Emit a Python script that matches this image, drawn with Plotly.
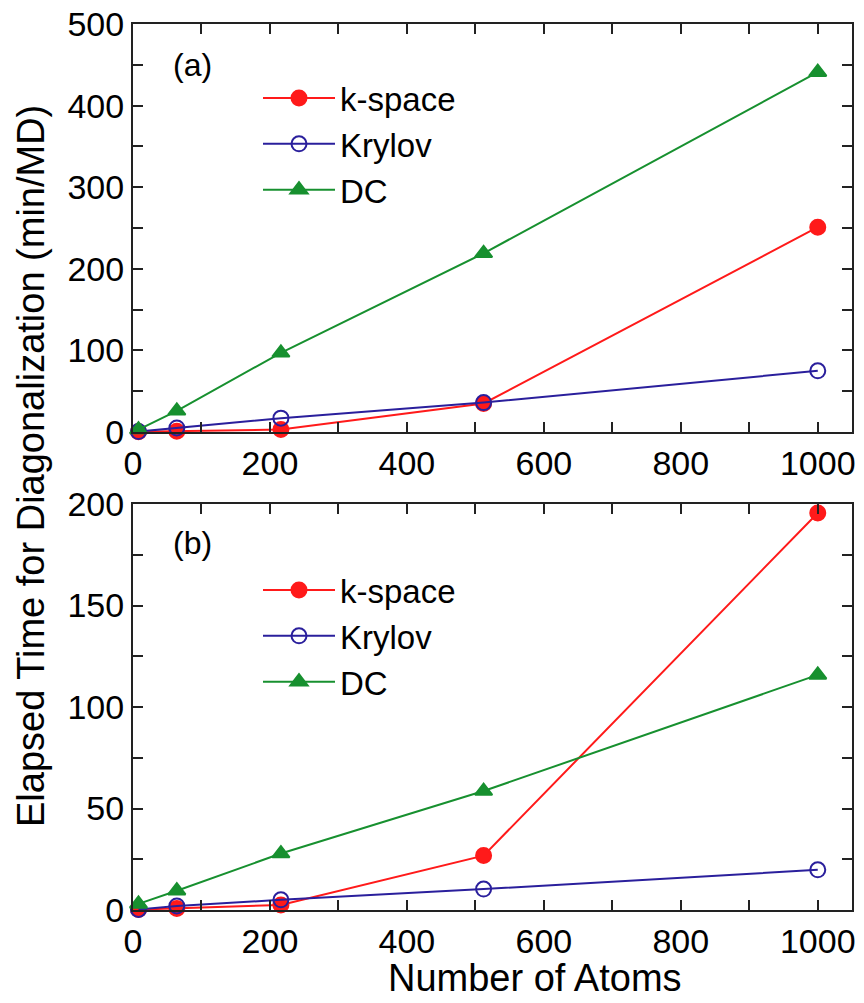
import plotly.graph_objects as go

atoms = [8, 64, 216, 512, 1000]

# Panel (a)
a_kspace = [0.3, 1.0, 3.0, 35.0, 251.0]
a_krylov = [0.5, 5.0, 17.0, 36.0, 75.0]
a_dc = [3.0, 26.0, 97.0, 219.0, 441.0]

# Panel (b)
b_kspace = [0.2, 0.8, 2.5, 26.8, 195.6]
b_krylov = [0.3, 2.0, 5.0, 10.3, 19.8]
b_dc = [3.0, 9.5, 27.8, 58.6, 115.8]

series_names = ["k-space", "Krylov", "DC"]
colors = ["#ff1a1a", "#2a1f9c", "#17902f"]
symbols = ["circle", "circle-open", "triangle-up"]

FONT = "Liberation Sans, Arial, Helvetica, sans-serif"
W, H = 864, 1003
L, R, T, B = 133, 852, 24, 910  # plot area in px

def px_x(px):
    return (px - L) / (R - L)

def px_y(py):
    return (B - py) / (B - T)

fig = go.Figure()

for panel, data, xa, ya, lg in [
    ("a", [a_kspace, a_krylov, a_dc], "x", "y", "legend"),
    ("b", [b_kspace, b_krylov, b_dc], "x2", "y2", "legend2"),
]:
    for name, vals, col, sym in zip(series_names, data, colors, symbols):
        fig.add_trace(go.Scatter(
            x=atoms, y=vals, name=name, mode="lines+markers",
            xaxis=xa, yaxis=ya, legend=lg, cliponaxis=False,
            line=dict(color=col, width=2),
            marker=dict(symbol=sym, size=15, color=col,
                        line=dict(color=col, width=2)),
        ))

axis_common = dict(
    showline=True, linecolor="#222222", linewidth=2, mirror="ticks",
    ticks="inside", ticklen=10, tickwidth=2, tickcolor="#222222",
    showgrid=False, zeroline=False, automargin=False,
    tickfont=dict(family=FONT, size=34, color="black"),
)
minor_common = dict(ticks="inside", ticklen=10, tickwidth=2, tickcolor="#222222", showgrid=False)

dom_a = [px_y(432), 1.0]
dom_b = [0.0, px_y(504)]

legend_common = dict(xanchor="left", yanchor="top", bgcolor="rgba(0,0,0,0)",
                     font=dict(family=FONT, size=33), itemwidth=72, tracegroupgap=0)

fig.update_layout(
    width=W, height=H,
    margin=dict(l=L, r=W - R, t=T, b=H - B, autoexpand=False),
    paper_bgcolor="white", plot_bgcolor="white",
    font=dict(family=FONT, color="black"),
    xaxis=dict(axis_common, range=[0, 1050], dtick=200, tick0=0,
               anchor="y", domain=[0, 1], minor=dict(minor_common, dtick=100)),
    yaxis=dict(axis_common, range=[0, 500], dtick=100, domain=dom_a, anchor="x",
               minor=dict(minor_common, dtick=50)),
    xaxis2=dict(axis_common, range=[0, 1050], dtick=200, tick0=0,
                anchor="y2", domain=[0, 1], minor=dict(minor_common, dtick=100)),
    yaxis2=dict(axis_common, range=[0, 200], dtick=50, domain=dom_b, anchor="x2",
                minor=dict(minor_common, dtick=25)),
    legend=dict(legend_common, x=px_x(258), y=px_y(70)),
    legend2=dict(legend_common, x=px_x(258), y=px_y(562)),
    showlegend=True,
)

fig.add_annotation(text="(a)", x=px_x(192), y=px_y(65), xref="paper", yref="paper",
                   showarrow=False, font=dict(family=FONT, size=32),
                   xanchor="center", yanchor="middle")
fig.add_annotation(text="(b)", x=px_x(192), y=px_y(543), xref="paper", yref="paper",
                   showarrow=False, font=dict(family=FONT, size=32),
                   xanchor="center", yanchor="middle")
fig.add_annotation(text="Number of Atoms", x=px_x(535), y=px_y(978), xref="paper", yref="paper",
                   showarrow=False, font=dict(family=FONT, size=38),
                   xanchor="center", yanchor="middle")
fig.add_annotation(text="Elapsed Time for Diagonalization (min/MD)", x=px_x(31), y=px_y(466),
                   xref="paper", yref="paper", textangle=-90,
                   showarrow=False, font=dict(family=FONT, size=38),
                   xanchor="center", yanchor="middle")

fig.write_html("out.html", config={"displayModeBar": False},
               post_script="document.body.style.margin='0px';document.body.style.padding='0px';")
